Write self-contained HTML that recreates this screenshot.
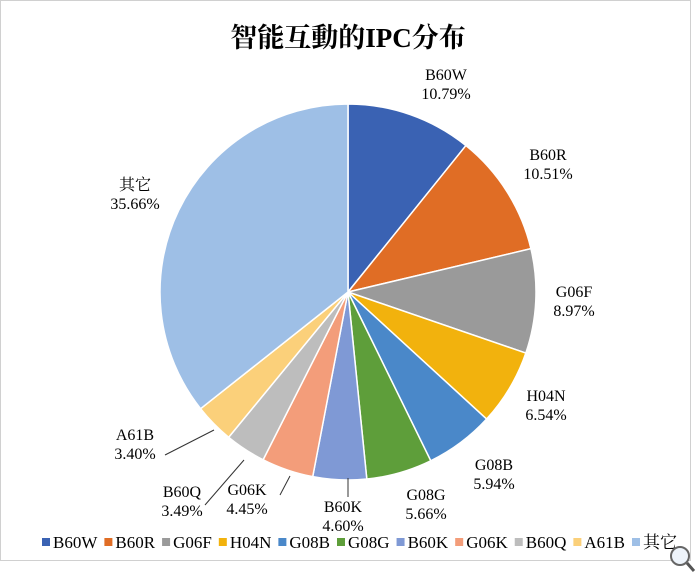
<!DOCTYPE html>
<html><head><meta charset="utf-8"><style>
body{margin:0;background:#fff;width:697px;height:574px;overflow:hidden;font-family:"Liberation Serif","Noto Serif CJK SC",serif}
svg text{font-family:"Liberation Serif","Noto Serif CJK SC",serif}
</style></head><body>
<svg id="c" width="697" height="574">
<rect x="0.5" y="0.5" width="690" height="560" fill="#fff" stroke="#d0d0d0"/>
<text x="348" y="47" text-anchor="middle" font-size="27" font-weight="bold" fill="#000">智能互動的IPC分布</text>
<g id="slices"></g><g id="labels"></g><g id="legend"></g>
<g><circle cx="680" cy="556" r="9" fill="#eef4fb" stroke="#666" stroke-width="2"/><line x1="687" y1="563" x2="694" y2="571" stroke="#555" stroke-width="3"/></g>
</svg>
<script>
const categories=["B60W","B60R","G06F","H04N","G08B","G08G","B60K","G06K","B60Q","A61B","其它"];
const values=[10.79,10.51,8.97,6.54,5.94,5.66,4.60,4.45,3.49,3.40,35.66];
const colors=["#3a62b3","#e06d25","#9a9a9a","#f2b20d","#4a88c9","#5e9e3a","#7f99d5","#f39d7a","#bdbdbd","#fbd07a","#9ebfe6"];
const labelPos=[[446,80],[548,160],[574,297],[546,401],[494,470],[426,500],[343,512],[247,495],[182,497],[135,440],[135,190]];
const leaders={6:[[348,478],[348,497]],7:[[290,476],[280,495]],8:[[244,460],[205,505]],9:[[214,430],[165,455]]};
const NS="http://www.w3.org/2000/svg",cx=348,cy=292,r=188;
const total=values.reduce((a,b)=>a+b,0);
const sl=document.getElementById('slices'),lb=document.getElementById('labels'),lg=document.getElementById('legend');
let a=0;
values.forEach((v,i)=>{
 const a2=a+v/total*2*Math.PI;
 const p=(t)=>[cx+r*Math.sin(t),cy-r*Math.cos(t)];
 const [x1,y1]=p(a),[x2,y2]=p(a2);
 const path=document.createElementNS(NS,'path');
 path.setAttribute('d',`M${cx},${cy}L${x1},${y1}A${r},${r} 0 ${a2-a>Math.PI?1:0} 1 ${x2},${y2}Z`);
 path.setAttribute('fill',colors[i]);path.setAttribute('stroke','#fff');path.setAttribute('stroke-width','1.5');
 
 
 sl.appendChild(path);
 a=a2;
 const [lx,ly]=labelPos[i];
 const t=document.createElementNS(NS,'text');
 t.setAttribute('x',lx);t.setAttribute('y',ly);t.setAttribute('text-anchor','middle');t.setAttribute('font-size','16');
 t.innerHTML=`<tspan x="${lx}">${categories[i]}</tspan><tspan x="${lx}" dy="19">${v.toFixed(2)}%</tspan>`;
 
 
 lb.appendChild(t);
 if(leaders[i]){const l=document.createElementNS(NS,'polyline');
  l.setAttribute('points',leaders[i].map(q=>q.join(',')).join(' '));l.setAttribute('fill','none');l.setAttribute('stroke','#333');
  
  
  lb.appendChild(l);}
});
let lxp=42;
categories.forEach((c,i)=>{
 const g=document.createElementNS(NS,'g');
 
 
 g.innerHTML=`<rect x="${lxp}" y="538" width="8" height="8" fill="${colors[i]}"/><text x="${lxp+11}" y="548" font-size="17">${c}</text>`;
 lg.appendChild(g);
 const w=g.querySelector('text').getComputedTextLength();
 lxp+=11+w+7;
});
</script>
</body></html>
